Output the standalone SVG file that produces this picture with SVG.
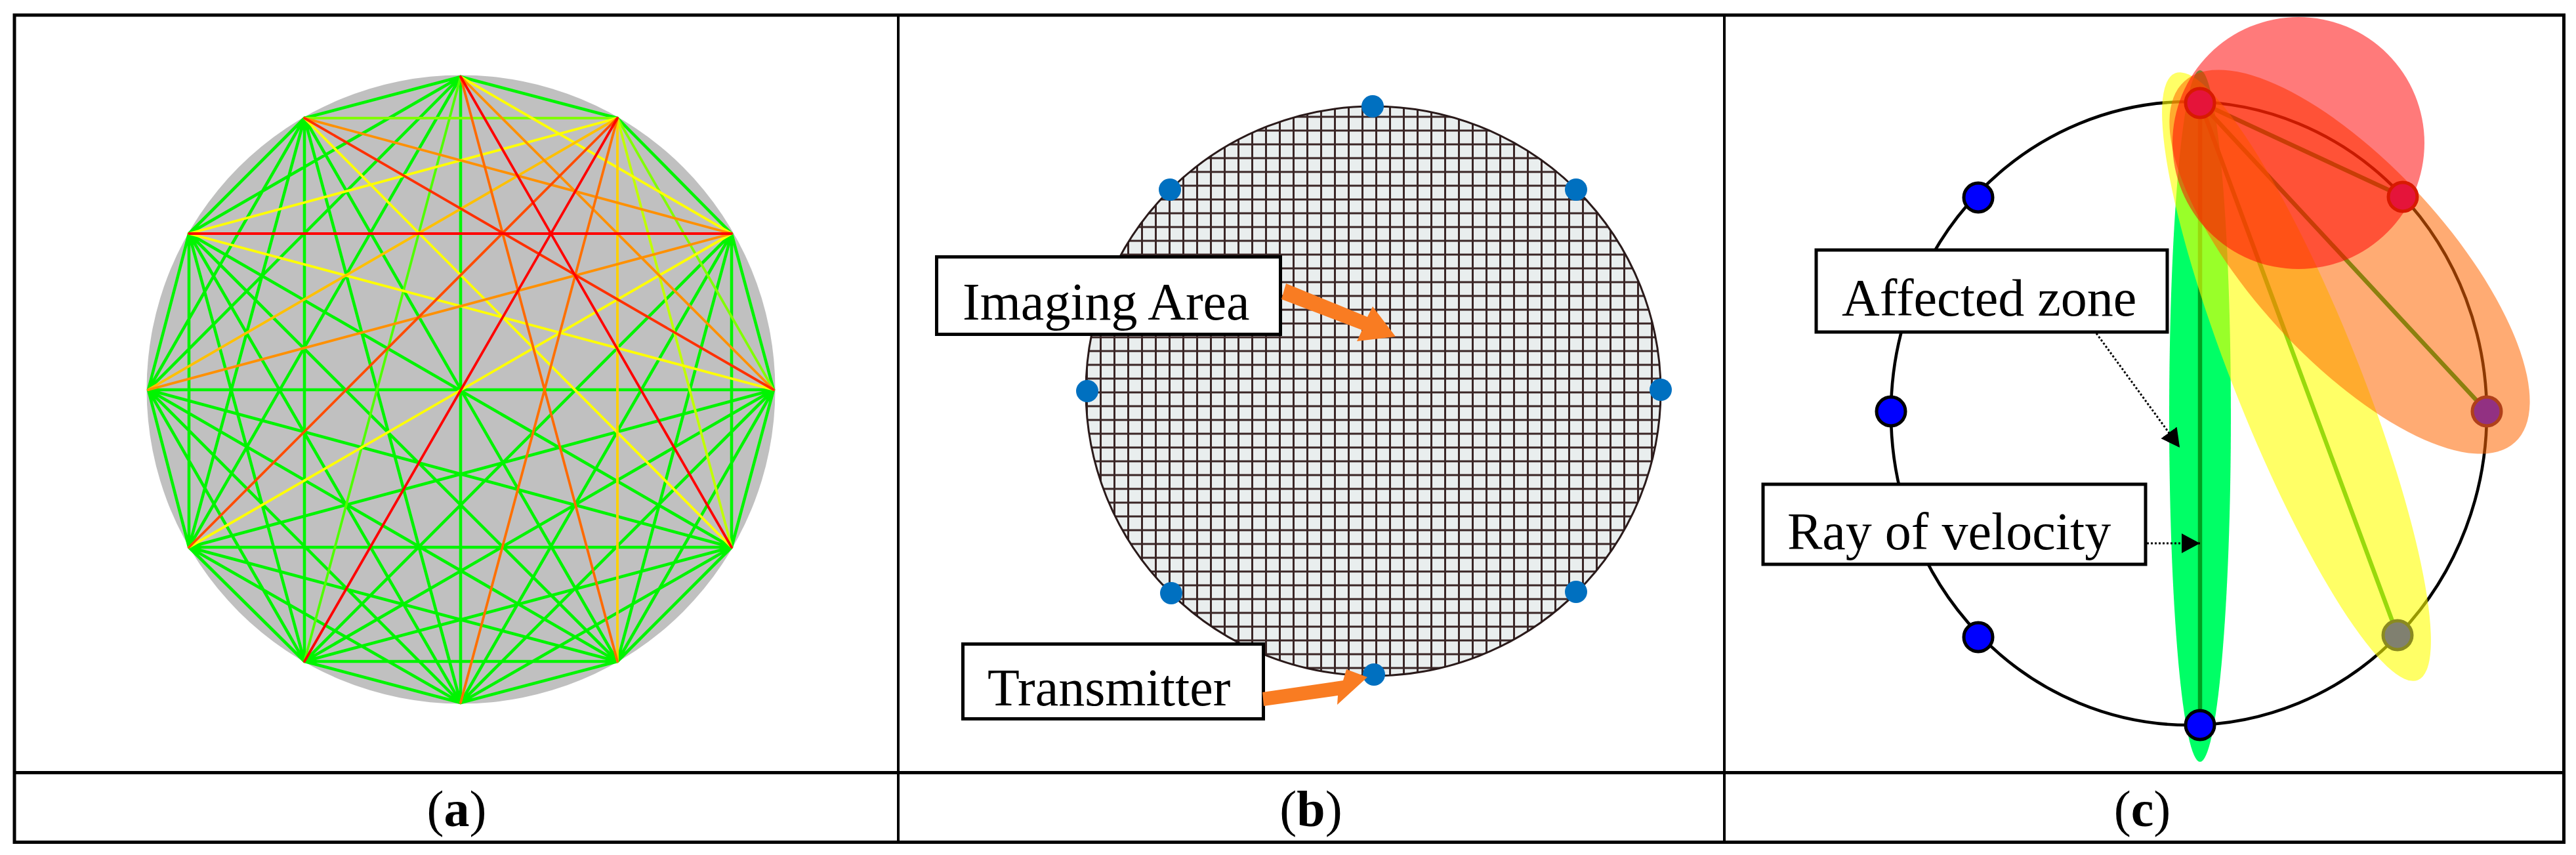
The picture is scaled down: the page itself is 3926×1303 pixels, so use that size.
<svg xmlns="http://www.w3.org/2000/svg" width="3926" height="1303" viewBox="0 0 3926 1303">
<style>
.t{font-family:"Liberation Serif","Times New Roman",serif;fill:#000}
.lbl{font-size:80px}
.cap{font-size:78px;text-anchor:middle}
.box{fill:#fff;stroke:#000;stroke-width:5}
.tb{stroke:#000;fill:none}
.e{stroke-width:3.8;fill:none;stroke-linecap:round}
.g{stroke:#00f400;stroke-width:4.6}
.tx{fill:#0070c0}
.ar{fill:#f97c22}
.n{stroke:#000;stroke-width:5;fill:#0000ff}
.ray{stroke:#00a020;stroke-width:6.5;fill:none}
.dot{stroke:#000;stroke-width:3;stroke-dasharray:3 3;fill:none;marker-end:url(#h)}
</style>
<defs>
<pattern id="grid" patternUnits="userSpaceOnUse" x="1760" y="533.5" width="21" height="21">
<rect width="21" height="21" fill="#e9eeee"/>
<path d="M1.5 0V21M0 1.5H21" stroke="#3a2626" stroke-width="3" fill="none"/>
</pattern>
<marker id="h" markerUnits="userSpaceOnUse" markerWidth="30" markerHeight="30" refX="28" refY="15" orient="auto"><path d="M0 0L28 15L0 30Z" fill="#000"/></marker>
</defs>
<rect width="3926" height="1303" fill="#fff"/>
<g id="panel-a">
<circle cx="702.5" cy="593.5" r="479" fill="#c0c0c0"/>
<g id="connectors-a" class="e">
<path class="g" d="M702 117L941 180M702 117L702 1071M702 117L464 180M702 117L288 356M702 117L226 594M702 117L288 834M941 180L1115 356M1115 356L1179 594M1115 356L1115 834M1115 356L941 1008M1115 356L702 1071M1115 356L464 1008M1179 594L1115 834M1179 594L941 1008M1179 594L702 1071M1179 594L464 1008M1179 594L288 834M1179 594L226 594M1115 834L941 1008M1115 834L702 1071M1115 834L464 1008M1115 834L288 834M1115 834L226 594M1115 834L288 356M941 1008L702 1071M941 1008L464 1008M941 1008L288 834M941 1008L226 594M941 1008L288 356M941 1008L464 180M702 1071L464 1008M702 1071L288 834M702 1071L226 594M702 1071L288 356M702 1071L464 180M464 1008L288 834M464 1008L226 594M464 1008L288 356M464 1008L464 180M288 834L226 594M288 834L288 356M288 834L464 180M226 594L288 356M226 594L464 180M288 356L464 180"/>
<line x1="702" y1="117" x2="464" y2="1008" stroke="#50ff00"/>
<line x1="464" y1="180" x2="941" y2="180" stroke="#80ff00"/>
<line x1="941" y1="180" x2="1179" y2="594" stroke="#80ff00"/>
<line x1="941" y1="180" x2="1115" y2="834" stroke="#c0ff00"/>
<line x1="702" y1="117" x2="1115" y2="356" stroke="#ffff00"/>
<line x1="941" y1="180" x2="288" y2="356" stroke="#ffff00"/>
<line x1="464" y1="180" x2="1115" y2="834" stroke="#ffff00"/>
<line x1="288" y1="356" x2="1179" y2="594" stroke="#ffff00"/>
<line x1="1115" y1="356" x2="288" y2="834" stroke="#ffff00"/>
<line x1="941" y1="180" x2="941" y2="1008" stroke="#ffd000"/>
<line x1="941" y1="180" x2="226" y2="594" stroke="#ffc000"/>
<line x1="702" y1="117" x2="1179" y2="594" stroke="#ff9000"/>
<line x1="464" y1="180" x2="1115" y2="356" stroke="#ff9000"/>
<line x1="1115" y1="356" x2="226" y2="594" stroke="#ff9000"/>
<line x1="702" y1="117" x2="941" y2="1008" stroke="#ff6a00"/>
<line x1="941" y1="180" x2="702" y2="1071" stroke="#ff7000"/>
<line x1="941" y1="180" x2="288" y2="834" stroke="#ff4c00"/>
<line x1="464" y1="180" x2="1179" y2="594" stroke="#ff3000"/>
<line x1="702" y1="117" x2="1115" y2="834" stroke="#ff0000"/>
<line x1="941" y1="180" x2="464" y2="1008" stroke="#ff0000"/>
<line x1="288" y1="356" x2="1115" y2="356" stroke="#ff0000"/>
</g>
</g>
<g id="panel-b">
<g id="imaging-disc"><ellipse cx="2093" cy="596" rx="438" ry="434" fill="url(#grid)" stroke="#2a1a1a" stroke-width="3"/></g>
<g id="transmitters" class="tx">
<circle cx="2092" cy="162" r="17"/><circle cx="2402" cy="289" r="17"/><circle cx="2531" cy="594" r="17"/><circle cx="2402" cy="902" r="17"/><circle cx="2094" cy="1028" r="17"/><circle cx="1785" cy="904" r="17"/><circle cx="1657" cy="596" r="17"/><circle cx="1783" cy="289" r="17"/>
</g>
<g id="imaging-area"><rect class="box" x="1427.5" y="391.5" width="524" height="118"/><text class="t lbl" x="1467" y="487">Imaging Area</text></g>
<g id="transmitter"><rect class="box" x="1467.5" y="981.5" width="458" height="114"/><text class="t lbl" x="1505" y="1075">Transmitter</text></g>
<g id="connectors-b" class="ar">
<polygon points="1960,432 2084,483 2092,467 2127,513 2068,520 2076,503 1953,456"/>
<polygon points="1924,1055 2047,1037 2052,1020 2084,1032 2038,1074 2039,1060 1926,1076"/>
</g>
</g>
<g id="panel-c">
<ellipse id="green-zone" cx="3353" cy="634" rx="47" ry="527" fill="#00ff66"/>
<g id="ring"><ellipse cx="3336" cy="630" rx="454" ry="475" fill="none" stroke="#000" stroke-width="4.6"/></g>
<g id="connectors-c">
<path class="ray" d="M3353 156L3353 1105M3353 156L3654 968M3353 156L3790 627M3353 156L3661 299"/>
</g>
<ellipse id="yellow-zone" cx="3500" cy="574" rx="95" ry="498" transform="rotate(-21.8 3500 574)" fill="#ffff00" fill-opacity=".6"/>
<ellipse id="orange-zone" cx="3581" cy="399" rx="148" ry="373" transform="rotate(-42.5 3581 399)" fill="#ff6600" fill-opacity=".55"/>
<circle id="red-zone" cx="3503" cy="218" r="192" fill="#ff0000" fill-opacity=".52"/>
<g id="sensors">
<circle class="n" cx="3015" cy="301" r="22"/><circle class="n" cx="2882" cy="627" r="22"/><circle class="n" cx="3015" cy="971" r="22"/><circle class="n" cx="3353" cy="1105" r="22"/>
<circle cx="3353" cy="157" r="22" fill="#e5143a" stroke="#d81a00" stroke-width="5"/>
<circle cx="3662" cy="300" r="22" fill="#e5143a" stroke="#d81a00" stroke-width="5"/>
<circle cx="3790" cy="627" r="22" fill="#923182" stroke="#b0401a" stroke-width="5"/>
<circle cx="3654" cy="968" r="22" fill="#808070" stroke="#8a8a20" stroke-width="5"/>
</g>
<g id="affected-zone"><rect class="box" x="2768" y="381" width="535" height="125"/><text class="t lbl" x="2807" y="481">Affected zone</text></g>
<g id="ray-of-velocity"><rect class="box" x="2687" y="738" width="583" height="122"/><text class="t lbl" x="2724" y="837">Ray of velocity</text></g>
<g id="connectors-c2">
<path class="dot" d="M3195 508L3322 682"/>
<path class="dot" d="M3272 828L3353 828"/>
</g>
</g>
<g id="table">
<path class="tb" stroke-width="5" d="M22 23H3907.5V1283.5H22ZM22 1177.5H3907.5"/>
<path class="tb" stroke-width="4" d="M1369 23V1283M2628 23V1283"/>
</g>
<g id="captions">
<text class="t cap" x="696" y="1259">(<tspan font-weight="bold">a</tspan>)</text>
<text class="t cap" x="1998" y="1259">(<tspan font-weight="bold">b</tspan>)</text>
<text class="t cap" x="3265" y="1259">(<tspan font-weight="bold">c</tspan>)</text>
</g>
</svg>
